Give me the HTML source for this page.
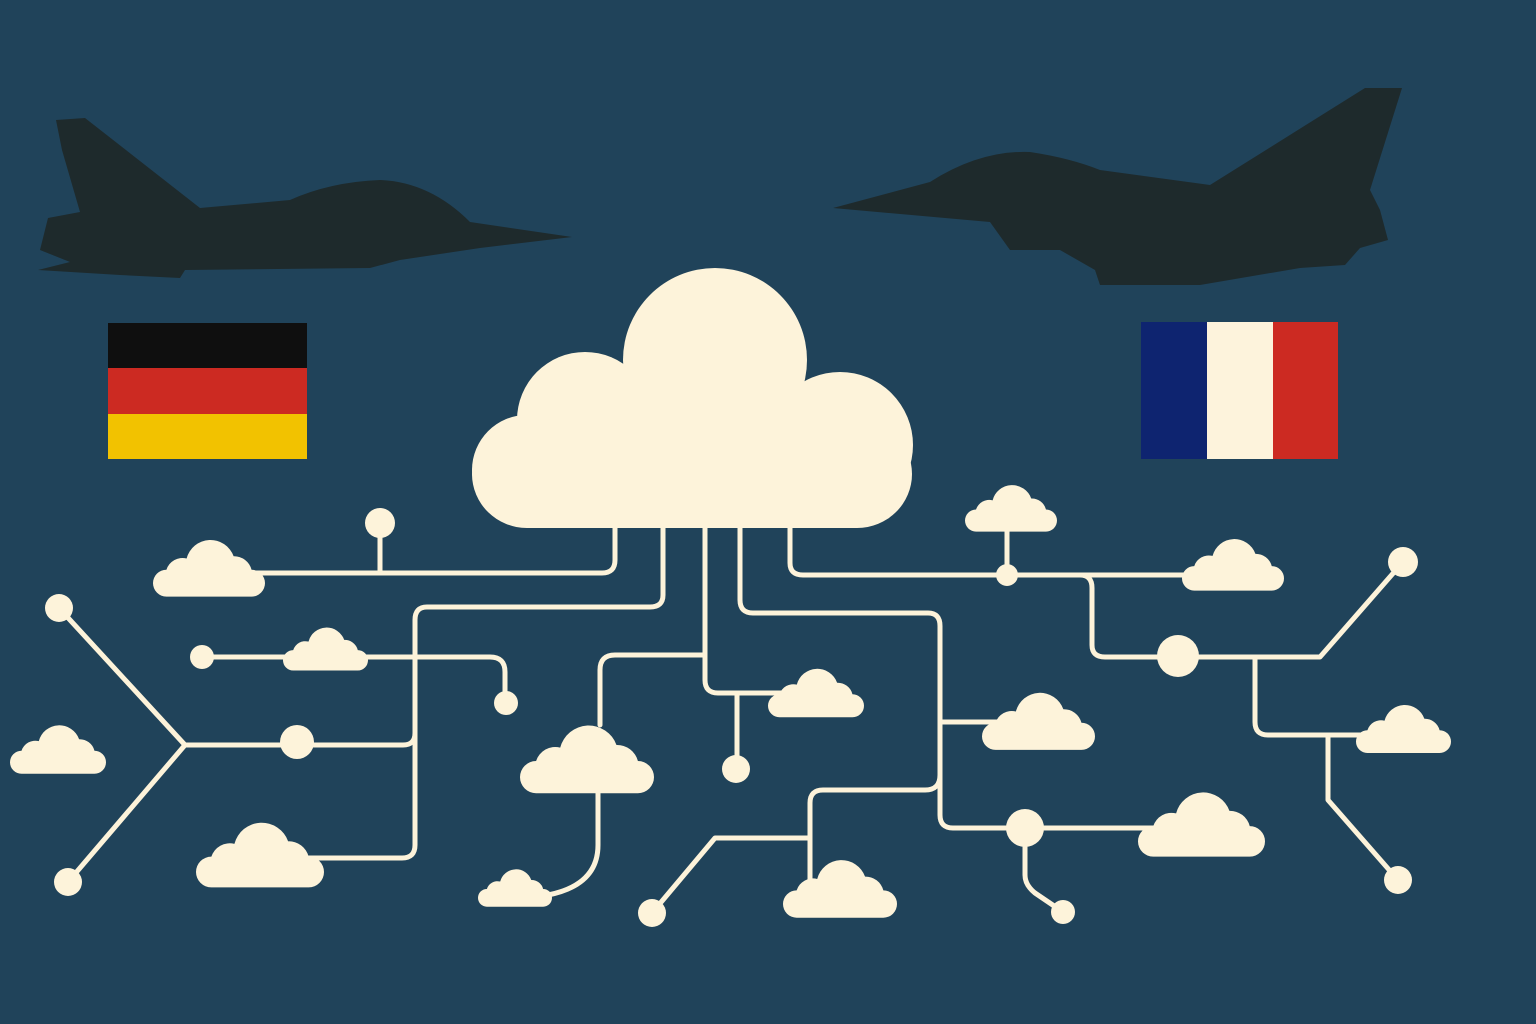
<!DOCTYPE html>
<html><head><meta charset="utf-8"><style>html,body{margin:0;padding:0;background:#20435a}svg{display:block}</style></head>
<body>
<svg width="1536" height="1024" viewBox="0 0 1536 1024" xmlns="http://www.w3.org/2000/svg">
<defs>
<symbol id="c" viewBox="0 0 100 60" overflow="visible">
<path d="M12 60 A12 12 0 0 1 12 36 A15 15 0 0 1 30 26 A22 22 0 0 1 72 24 A16 16 0 0 1 88 36 A12 12 0 0 1 88 60 Z" fill="#fdf3da"/>
</symbol>
</defs>
<rect width="1536" height="1024" fill="#20435a"/>
<path fill="#1e2a2c" d="M572 237 L470 222 Q430 182 380 180 Q330 182 290 200 L200 208 L85 118 L56 120 L62 150 L80 212 L48 218 L40 250 L70 262 L38 270 L120 275 L180 278 L185 270 L370 268 L400 260 L480 248 Z"/>
<path fill="#1e2a2c" d="M833 208 L930 182 Q980 150 1030 152 Q1070 158 1100 170 L1210 185 L1365 88 L1402 88 L1370 190 L1380 210 L1388 240 L1360 248 L1345 265 L1300 268 L1200 285 L1100 285 L1095 270 L1060 250 L1010 250 L990 222 Z"/>
<rect x="108" y="323" width="199" height="45" fill="#0f0f0f"/>
<rect x="108" y="368" width="199" height="46" fill="#cc2a22"/>
<rect x="108" y="414" width="199" height="45" fill="#f2c200"/>
<rect x="1141" y="322" width="66" height="137" fill="#0e2470"/>
<rect x="1207" y="322" width="66" height="137" fill="#fdf3dc"/>
<rect x="1273" y="322" width="65" height="137" fill="#cc2a22"/>
<g fill="none" stroke="#fdf3da" stroke-width="5" stroke-linecap="round" stroke-linejoin="round">
<path d="M615 520 V560 Q615 573 602 573 H240"/>
<path d="M380 523 V573"/>
<path d="M663 520 V595 Q663 607 650 607 H427 Q415 607 415 620 V845 Q415 858 402 858 H300"/>
<path d="M705 520 V680 Q705 693 718 693 H790"/>
<path d="M737 693 V769"/>
<path d="M740 520 V600 Q740 613 753 613 H928 Q940 613 940 626 V815 Q940 828 953 828 H1160"/>
<path d="M940 722 H1000"/>
<path d="M940 775 Q940 790 925 790 H823 Q810 790 810 803 V880"/>
<path d="M810 838 H715 L652 913"/>
<path d="M790 520 V563 Q790 575 803 575 H1200"/>
<path d="M1007 575 V530"/>
<path d="M1080 575 Q1092 575 1092 588 V645 Q1092 657 1105 657 H1320 L1403 562"/>
<path d="M1255 657 V722 Q1255 735 1268 735 H1380"/>
<path d="M1328 735 V800 L1398 880"/>
<path d="M1025 828 V875 Q1025 885 1035 893 L1063 912"/>
<path d="M59 608 L185 745 L68 882"/>
<path d="M185 745 H403 Q415 745 415 733"/>
<path d="M202 657 H300"/>
<path d="M360 657 H490 Q505 657 505 672 V703"/>
<path d="M705 655 H615 Q600 655 600 670 V725"/>
<path d="M598 780 V845 Q598 885 548 895"/>
</g>
<g fill="#fdf3da">
<circle cx="380" cy="523" r="15"/>
<circle cx="59" cy="608" r="14"/>
<circle cx="68" cy="882" r="14"/>
<circle cx="202" cy="657" r="12"/>
<circle cx="297" cy="742" r="17"/>
<circle cx="506" cy="703" r="12"/>
<circle cx="736" cy="769" r="14"/>
<circle cx="652" cy="913" r="14"/>
<circle cx="1007" cy="575" r="11"/>
<circle cx="1178" cy="656" r="21"/>
<circle cx="1403" cy="562" r="15"/>
<circle cx="1398" cy="880" r="14"/>
<circle cx="1025" cy="828" r="19"/>
<circle cx="1063" cy="912" r="12"/>
<circle cx="715" cy="360" r="92"/>
<circle cx="585" cy="420" r="68"/>
<circle cx="840" cy="445" r="73"/>
<circle cx="527" cy="470" r="55"/>
<rect x="472" y="420" width="440" height="108" rx="55"/>
</g>
<use href="#c" x="153" y="527" width="112" height="72"/>
<use href="#c" x="283" y="617" width="85" height="56"/>
<use href="#c" x="10" y="714" width="96" height="62"/>
<use href="#c" x="196" y="808" width="128" height="82"/>
<use href="#c" x="520" y="712" width="134" height="82"/>
<use href="#c" x="478" y="858" width="74" height="53"/>
<use href="#c" x="768" y="656" width="96" height="65"/>
<use href="#c" x="783" y="848" width="114" height="71"/>
<use href="#c" x="965" y="474" width="92" height="60"/>
<use href="#c" x="982" y="681" width="113" height="70"/>
<use href="#c" x="1182" y="527" width="102" height="66"/>
<use href="#c" x="1356" y="692" width="95" height="65"/>
<use href="#c" x="1138" y="776" width="127" height="85"/>
</svg>
</body></html>
